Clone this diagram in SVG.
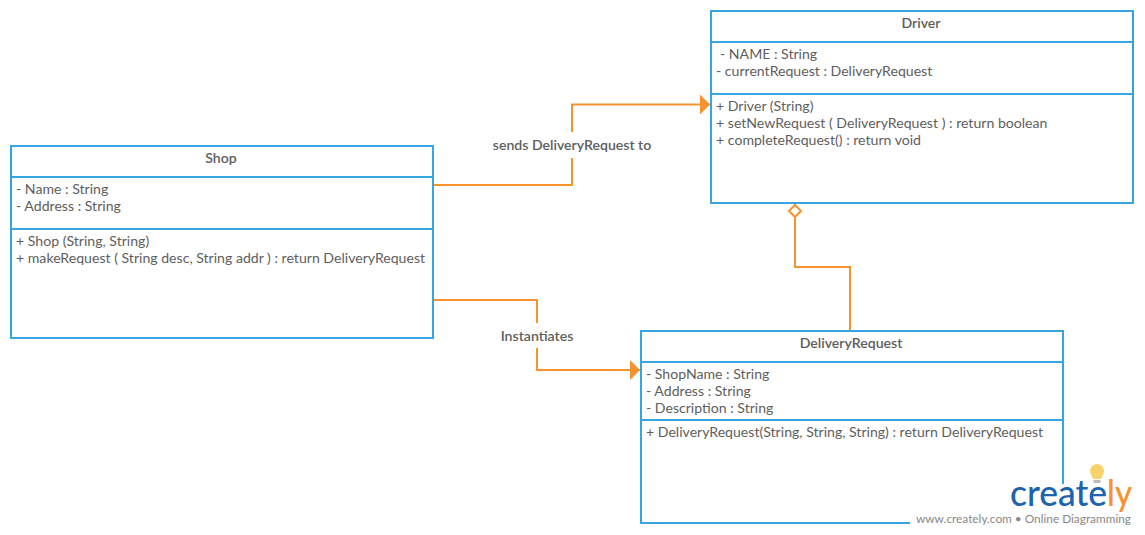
<svg xmlns="http://www.w3.org/2000/svg" width="1145" height="535" viewBox="0 0 1145 535">
<style>
text{font-family:Lato,"Open Sans","Liberation Sans",sans-serif;fill:#5e5e5e;font-size:14.1px}
.b{fill:#fff;stroke:#36a6e2;stroke-width:2}
.d{fill:none;stroke:#36a6e2;stroke-width:2}
.t{font-weight:600;text-anchor:middle}
.c{fill:none;stroke:#f7932e;stroke-width:2}
.l{font-weight:600;text-anchor:middle}
.logo{font-size:36px;font-weight:500}
</style>
<defs>
<marker id="arrow" markerUnits="userSpaceOnUse" markerWidth="12" markerHeight="20" refX="10" refY="10" orient="auto"><path d="M0 0L10 10L0 20Z" fill="#f7932e"/></marker>
<marker id="dia" markerUnits="userSpaceOnUse" markerWidth="16" markerHeight="16" refX="14" refY="7" orient="auto"><path d="M1 7L7 1L13 7L7 13Z" fill="#fff" stroke="#f7932e" stroke-width="2"/></marker>
</defs>
<g id="connectors">
<path class="c" d="M434 185H572V104.500H710" marker-end="url(#arrow)"/>
<path class="c" d="M434 300H537V370H640" marker-end="url(#arrow)"/>
<path class="c" d="M850 331V267H795V204" marker-end="url(#dia)"/>
</g>
<g id="shop">
<rect class="b" x="11" y="146" width="422" height="192"/>
<path class="d" d="M11 177H433M11 229H433"/>
<text class="t" x="221" y="163">Shop</text>
<text x="16" y="194">- Name : String</text>
<text x="16" y="211">- Address : String</text>
<text x="16" y="246">+ Shop (String, String)</text>
<text x="16" y="263">+ makeRequest ( String desc, String addr ) : return DeliveryRequest</text>
</g>
<g id="driver">
<rect class="b" x="711" y="11" width="422" height="192"/>
<path class="d" d="M711 42H1133M711 94H1133"/>
<text class="t" x="921" y="28">Driver</text>
<text x="720" y="59">- NAME : String</text>
<text x="716" y="76">- currentRequest : DeliveryRequest</text>
<text x="716" y="111">+ Driver (String)</text>
<text x="716" y="128">+ setNewRequest ( DeliveryRequest ) : return boolean</text>
<text x="716" y="145">+ completeRequest() : return void</text>
</g>
<g id="deliveryRequest">
<rect class="b" x="641" y="331" width="422" height="192"/>
<path class="d" d="M641 362H1063M641 420H1063"/>
<text class="t" x="851" y="348">DeliveryRequest</text>
<text x="646" y="379">- ShopName : String</text>
<text x="646" y="396">- Address : String</text>
<text x="646" y="413">- Description : String</text>
<text x="646" y="437">+ DeliveryRequest(String, String, String) : return DeliveryRequest</text>
</g>
<g id="label-sends">
<rect x="488" y="132" width="168" height="26" fill="#fff"/>
<text class="l" x="572" y="150">sends DeliveryRequest to</text>
</g>
<g id="label-instantiates">
<rect x="496" y="323" width="82" height="25" fill="#fff"/>
<text class="l" x="537" y="341">Instantiates</text>
</g>
<g id="watermark">
<path d="M910 484H1145V535H910Z" fill="#fff"/>
<path d="M1097 464a7 7 0 0 1 7 7c0 3-2 5-3 8h-8c-1-3-3-5-3-8a7 7 0 0 1 7-7Z" fill="#f8d26a"/>
<rect x="1093.500" y="480" width="7" height="3" fill="#bbb"/>
<text class="logo" x="1010" y="506" style="fill:#1c64ae" textLength="97" lengthAdjust="spacingAndGlyphs">create</text>
<text class="logo" x="1107" y="506" style="fill:#f7932e" textLength="25" lengthAdjust="spacingAndGlyphs">ly</text>
<text x="916" y="523" style="font-size:11.500px;fill:#888" textLength="215" lengthAdjust="spacingAndGlyphs">www.creately.com • Online Diagramming</text>
</g>
</svg>
